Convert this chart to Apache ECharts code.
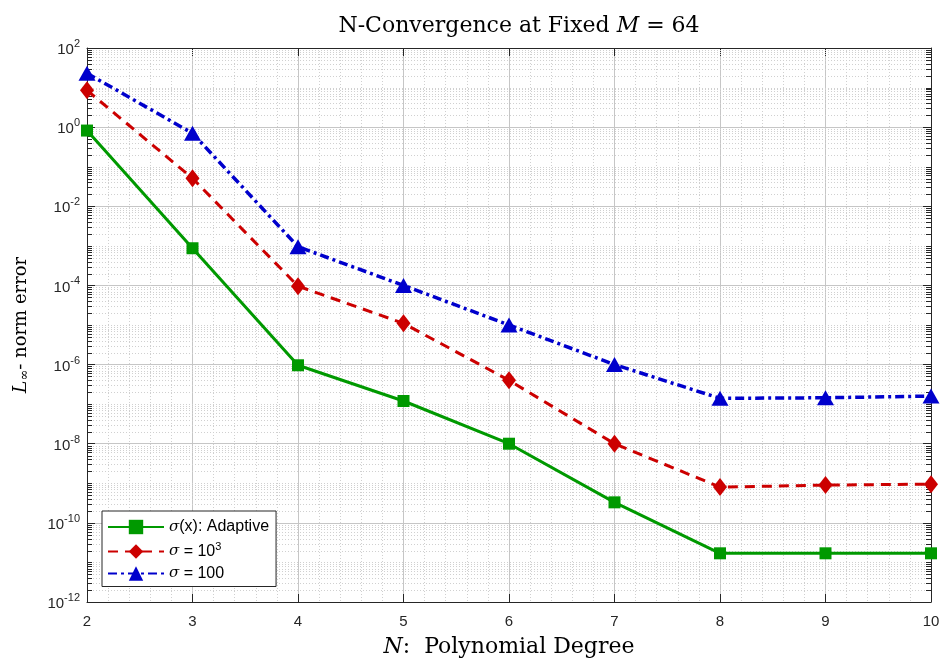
<!DOCTYPE html>
<html>
<head>
<meta charset="utf-8">
<script src="https://cdn.jsdelivr.net/npm/echarts@6/dist/echarts.min.js"></script>
<style>
  html, body { margin: 0; padding: 0; background: #fff; }
  #chart { width: 941px; height: 660px; }
</style>
</head>
<body>
<div id="chart"></div>
<script>
// Polynomial degree N
const degrees = [2, 3, 4, 5, 6, 7, 8, 9, 10];

// L-infinity error for each penalty choice
const adaptiveErr = [0.82, 8.7e-4, 9.6e-7, 1.2e-7, 1.0e-8, 3.3e-10, 1.7e-11, 1.7e-11, 1.7e-11];
const sigma1e3Err = [8.5, 0.051, 9.6e-5, 1.1e-5, 4.0e-7, 1.0e-8, 8.0e-10, 9.0e-10, 9.5e-10];
const sigma100Err = [23, 0.70, 9.5e-4, 1.0e-4, 1.0e-5, 1.0e-6, 1.4e-7, 1.45e-7, 1.6e-7];

// Legend / series names
const seriesNames = ['σ(x): Adaptive', 'σ = 10^3', 'σ = 100'];

// Log axis range (exponents)
const yMinExp = -12;
const yMaxExp = 2;

const pairs = (ys) => degrees.map((n, i) => [n, ys[i]]);

// Minor log grid values: 2..9 in every decade plus the odd decades
const minorVals = [];
for (let k = yMinExp; k < yMaxExp; k++) {
  for (let m = 1; m <= 9; m++) {
    if (m === 1 && k % 2 === 0) continue;
    minorVals.push(m * Math.pow(10, k));
  }
}

const axisColor = '#262626';
const sans = '"Liberation Sans", Arial, Helvetica, sans-serif';
const serif = '"DejaVu Serif", "Liberation Serif", serif';

const chart = echarts.init(document.getElementById('chart'), null, { renderer: 'canvas' });

const option = {
  animation: false,
  backgroundColor: '#ffffff',
  title: {
    text: '{a|N-Convergence at Fixed }{i|M}{a| = 64}',
    left: 514,
    textAlign: 'center',
    top: 10,
    textStyle: {
      fontWeight: 'normal',
      rich: {
        a: { fontFamily: serif, fontSize: 22, fontWeight: 'normal', color: '#000' },
        i: { fontFamily: serif, fontSize: 22, fontWeight: 'normal', fontStyle: 'italic', color: '#000' }
      }
    }
  },
  grid: {
    left: 87, right: 10, top: 48, bottom: 58,
    containLabel: false,
    outerBoundsMode: 'none'
  },
  legend: {
    data: seriesNames,
    orient: 'vertical',
    left: 102,
    top: 511,
    itemWidth: 56,
    itemHeight: 18,
    itemGap: 6,
    padding: [8, 7, 5, 5],
    backgroundColor: '#ffffff',
    borderColor: axisColor,
    borderWidth: 1,
    borderRadius: 0,
    formatter: function (name) {
      if (name === seriesNames[0]) return '{i|σ}{t|(x): Adaptive}';
      if (name === seriesNames[1]) return '{i|σ}{t| = 10}{s|3}';
      return '{i|σ}{t| = 100}';
    },
    textStyle: {
      rich: {
        t: { fontFamily: sans, fontSize: 16, color: '#000' },
        i: { fontFamily: serif, fontSize: 15, fontStyle: 'italic', color: '#000' },
        s: { fontFamily: sans, fontSize: 11, color: '#000', padding: [0, 0, 10, 0] }
      }
    }
  },
  xAxis: [
    {
      type: 'value',
      min: 2,
      max: 10,
      interval: 1,
      position: 'bottom',
      name: '{i|N}{a|:  Polynomial Degree}',
      nameLocation: 'middle',
      nameGap: 34,
      nameTextStyle: {
        rich: {
          a: { fontFamily: serif, fontSize: 22, color: '#000' },
          i: { fontFamily: serif, fontSize: 22, fontStyle: 'italic', color: '#000' }
        }
      },
      axisLine: { show: true, onZero: false, lineStyle: { color: axisColor, width: 1 } },
      axisTick: { show: true, inside: true, length: 8, lineStyle: { color: axisColor } },
      axisLabel: { fontFamily: sans, fontSize: 15, color: axisColor, margin: 12 },
      splitLine: { show: true, lineStyle: { color: '#c6c6c6', width: 1 } },
      minorTick: { show: false, splitNumber: 5 },
      minorSplitLine: { show: true, lineStyle: { color: '#d0d0d0', width: 1, type: [1, 2] } }
    },
    {
      type: 'value',
      min: 2,
      max: 10,
      interval: 1,
      position: 'top',
      axisLine: { show: true, onZero: false, lineStyle: { color: axisColor, width: 1 } },
      axisTick: { show: true, inside: true, length: 8, lineStyle: { color: axisColor } },
      axisLabel: { show: false },
      splitLine: { show: false }
    }
  ],
  yAxis: [
    {
      type: 'log',
      logBase: 10,
      min: Math.pow(10, yMinExp),
      max: Math.pow(10, yMaxExp),
      interval: 2,
      position: 'left',
      name: '{i|L}{sub|∞}{a|- norm error}',
      nameLocation: 'middle',
      nameRotate: 90,
      nameGap: 56,
      nameTextStyle: {
        rich: {
          a: { fontFamily: serif, fontSize: 18, color: '#000' },
          i: { fontFamily: serif, fontSize: 19, fontStyle: 'italic', color: '#000' },
          sub: { fontFamily: serif, fontSize: 13, color: '#000', padding: [7, 0, 0, 0] }
        }
      },
      axisLine: { show: true, onZero: false, lineStyle: { color: axisColor, width: 1 } },
      axisTick: { show: true, inside: true, length: 8, lineStyle: { color: axisColor } },
      axisLabel: {
        margin: 7,
        formatter: function (v) {
          const e = Math.round(Math.log10(v));
          return '{b|10}{s|' + e + '}';
        },
        rich: {
          b: { fontFamily: sans, fontSize: 15, color: axisColor, padding: [4, 0, 0, 0] },
          s: { fontFamily: sans, fontSize: 11, color: axisColor, padding: [0, 0, 8, 0] }
        }
      },
      splitLine: { show: true, lineStyle: { color: '#c6c6c6', width: 1 } }
    },
    {
      type: 'log',
      logBase: 10,
      min: Math.pow(10, yMinExp),
      max: Math.pow(10, yMaxExp),
      interval: 2,
      position: 'right',
      axisLine: { show: true, onZero: false, lineStyle: { color: axisColor, width: 1 } },
      axisTick: { show: true, inside: true, length: 8, lineStyle: { color: axisColor } },
      axisLabel: { show: false },
      splitLine: { show: false }
    }
  ],
  series: [
    {
      // dotted minor grid for the log axis, with short minor ticks on both sides
      type: 'custom',
      name: 'minor-grid',
      silent: true,
      z: 1,
      clip: false,
      data: minorVals.map(v => [2, v]),
      renderItem: function (params, api) {
        const v = api.value(1);
        const p0 = api.coord([2, v]);
        const p1 = api.coord([10, v]);
        const y = Math.round(p0[1]) + 0.5;
        const tick = 5;
        return {
          type: 'group',
          children: [
            { type: 'line', shape: { x1: p0[0], y1: y, x2: p1[0], y2: y },
              style: { stroke: '#d0d0d0', lineWidth: 1, lineDash: [1, 2] } },
            { type: 'line', shape: { x1: p0[0], y1: y, x2: p0[0] + tick, y2: y },
              style: { stroke: axisColor, lineWidth: 1 } },
            { type: 'line', shape: { x1: p1[0] - tick, y1: y, x2: p1[0], y2: y },
              style: { stroke: axisColor, lineWidth: 1 } }
          ]
        };
      }
    },
    {
      name: seriesNames[0],
      type: 'line',
      data: pairs(adaptiveErr),
      z: 5,
      clip: false,
      symbol: 'rect',
      symbolSize: 12,
      color: '#009900',
      itemStyle: { color: '#009900' },
      lineStyle: { color: '#009900', width: 3, type: 'solid' }
    },
    {
      name: seriesNames[1],
      type: 'line',
      data: pairs(sigma1e3Err),
      z: 5,
      clip: false,
      symbol: 'diamond',
      symbolSize: [14, 18],
      color: '#cc0000',
      itemStyle: { color: '#cc0000' },
      lineStyle: { color: '#cc0000', width: 3, type: [10, 7] }
    },
    {
      name: seriesNames[2],
      type: 'line',
      data: pairs(sigma100Err),
      z: 5,
      clip: false,
      symbol: 'triangle',
      symbolSize: [17, 15],
      color: '#0000cc',
      itemStyle: { color: '#0000cc' },
      lineStyle: { color: '#0000cc', width: 3.5, type: [9, 4, 3, 4] }
    }
  ]
};

chart.setOption(option);
</script>
</body>
</html>
